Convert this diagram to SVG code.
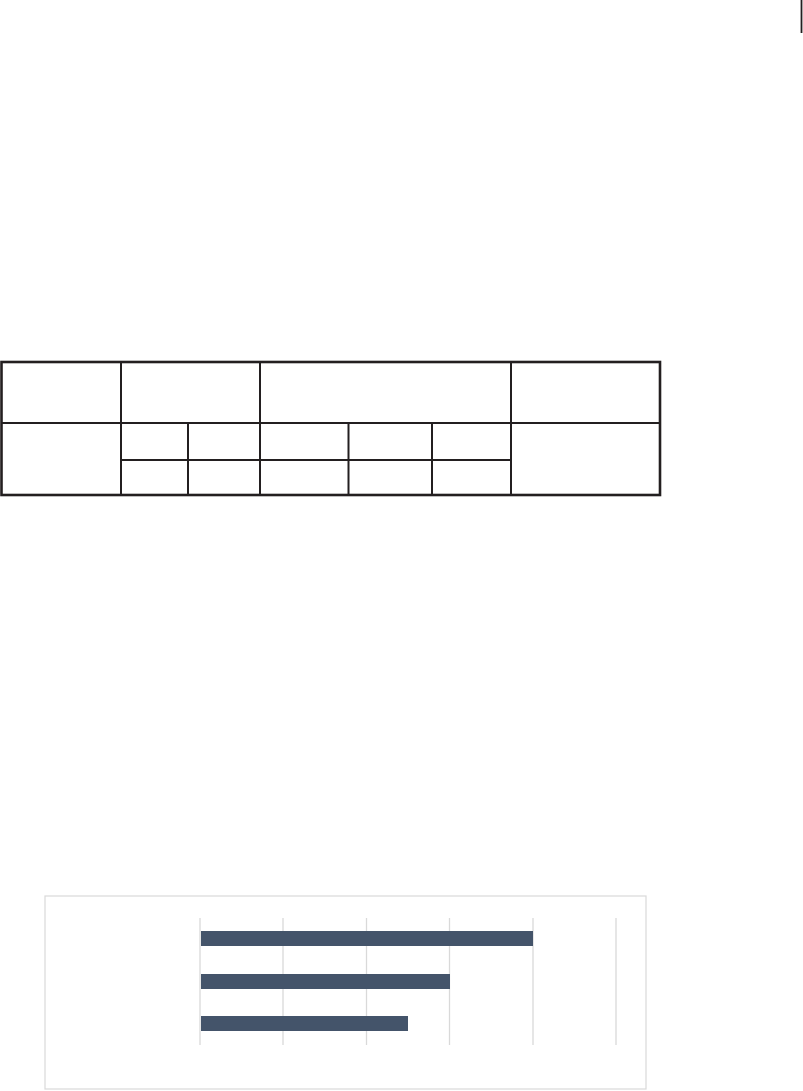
<svg xmlns="http://www.w3.org/2000/svg" width="803" height="1091" viewBox="0 0 803 1091">
<style>
.outer{fill:none;stroke:#231f20;stroke-width:2.6}
.inner{stroke:#231f20;stroke-width:2;fill:none}
.grid{stroke:#d9d9d9;stroke-width:1.3}
.bar{fill:#44546a}
.frame{fill:#ffffff;stroke:#d9d9d9;stroke-width:1.2}
</style>
<rect width="803" height="1091" fill="#ffffff"/>
<line id="cursor" x1="801.5" y1="0" x2="801.5" y2="33" stroke="#231f20" stroke-width="1.8"/>
<g id="table">
<rect class="outer" x="1.5" y="362" width="658.5" height="133"/>
<line class="inner" x1="1.5" y1="423" x2="660" y2="423"/>
<line class="inner" x1="121" y1="460" x2="511" y2="460"/>
<line class="inner" x1="121" y1="362" x2="121" y2="495"/>
<line class="inner" x1="260" y1="362" x2="260" y2="495"/>
<line class="inner" x1="511" y1="362" x2="511" y2="495"/>
<line class="inner" x1="188" y1="423" x2="188" y2="495"/>
<line class="inner" x1="348.5" y1="423" x2="348.5" y2="495"/>
<line class="inner" x1="432" y1="423" x2="432" y2="495"/>
</g>
<g id="chart">
<rect class="frame" x="45" y="896" width="601" height="193"/>
<g id="gridlines">
<line class="grid" x1="200" y1="918" x2="200" y2="1045"/>
<line class="grid" x1="283" y1="918" x2="283" y2="1045"/>
<line class="grid" x1="366.5" y1="918" x2="366.5" y2="1045"/>
<line class="grid" x1="449.5" y1="918" x2="449.5" y2="1045"/>
<line class="grid" x1="533" y1="918" x2="533" y2="1045"/>
<line class="grid" x1="616" y1="918" x2="616" y2="1045"/>
</g>
<g id="bars">
<rect class="bar" x="201" y="931" width="332" height="15"/>
<rect class="bar" x="201" y="974" width="249" height="15"/>
<rect class="bar" x="201" y="1016" width="207" height="15"/>
</g>
</g>
</svg>
